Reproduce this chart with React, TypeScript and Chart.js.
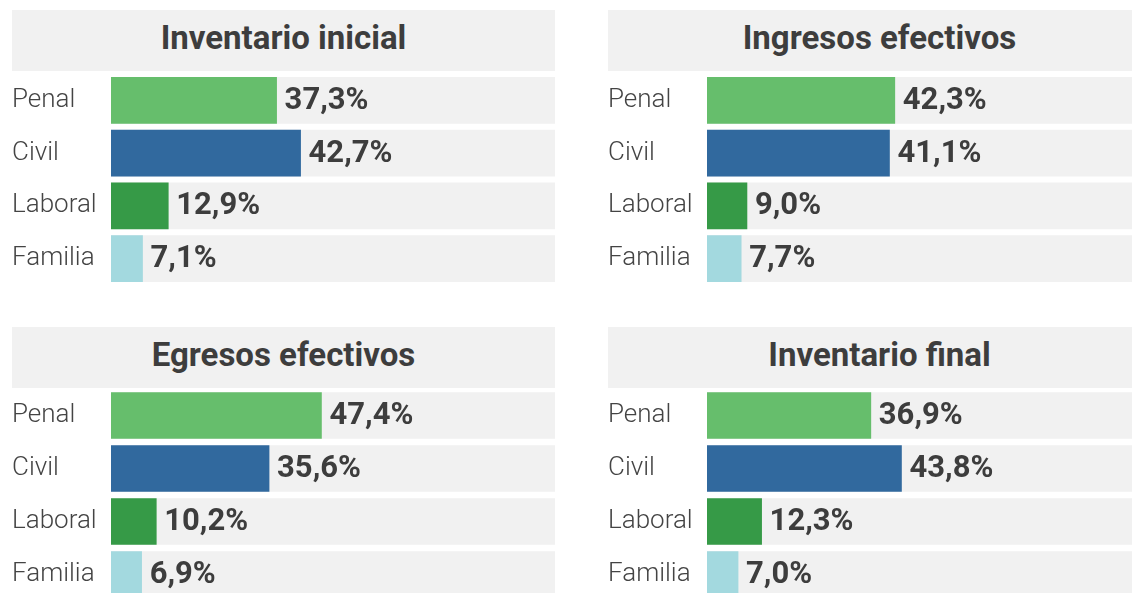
import React, { useEffect, useRef } from "react";
import { Chart, registerables } from "chart.js";

Chart.register(...registerables);

const categories = ["Penal", "Civil", "Laboral", "Familia"];
const categoryColors = ["#66be6c", "#31699e", "#369a47", "#a3d9df"];
const panelTitles = ["Inventario inicial", "Ingresos efectivos", "Egresos efectivos", "Inventario final"];
const inventarioInicial = [37.3, 42.7, 12.9, 7.1];
const ingresosEfectivos = [42.3, 41.1, 9.0, 7.7];
const egresosEfectivos = [47.4, 35.6, 10.2, 6.9];
const inventarioFinal = [36.9, 43.8, 12.3, 7.0];
const trackValues = [100, 100, 100, 100];

const panelSeries = [inventarioInicial, ingresosEfectivos, egresosEfectivos, inventarioFinal];

const PANEL_W = 543;
const panelLayout = [
  { left: 12, headerTop: 10, chartTop: 74, chartH: 211 },
  { left: 608, headerTop: 10, chartTop: 74, chartH: 211 },
  { left: 12, headerTop: 327, chartTop: 389, chartH: 212 },
  { left: 608, headerTop: 327, chartTop: 389, chartH: 212 },
];

const valueLabelPlugin = {
  id: "valueLabels",
  afterDatasetsDraw(chart: any) {
    const meta = chart.getDatasetMeta(1);
    const data = chart.data.datasets[1].data as number[];
    const ctx = chart.ctx;
    ctx.save();
    ctx.font = "bold 31px Roboto";
    ctx.fillStyle = "#3d3d3d";
    ctx.textAlign = "left";
    ctx.textBaseline = "alphabetic";
    meta.data.forEach((bar: any, i: number) => {
      const txt = data[i].toFixed(1).replace(".", ",") + "%";
      ctx.fillText(txt, bar.x + 8, bar.y + 8.5);
    });
    ctx.restore();
  },
};

function Panel({ idx }: { idx: number }) {
  const ref = useRef<HTMLCanvasElement>(null);
  const lay = panelLayout[idx];
  useEffect(() => {
    if (!ref.current) return;
    const chart = new Chart(ref.current, {
      type: "bar",
      data: {
        labels: categories,
        datasets: [
          {
            data: trackValues,
            backgroundColor: "#f1f1f1",
            barThickness: 46,
            grouped: false,
            order: 2,
          } as any,
          {
            data: panelSeries[idx],
            backgroundColor: categoryColors,
            barThickness: 46,
            grouped: false,
            order: 1,
          } as any,
        ],
      },
      options: {
        indexAxis: "y",
        animation: false,
        responsive: false,
        maintainAspectRatio: false,
        events: [],
        layout: { padding: 0 },
        plugins: { legend: { display: false }, tooltip: { enabled: false }, title: { display: false } },
        scales: {
          x: { min: 0, max: 100, display: false },
          y: {
            grid: { display: false, drawTicks: false },
            border: { display: false },
            ticks: {
              crossAlign: "far",
              padding: 0,
              color: "#444444",
              font: { family: "Roboto", size: 26, weight: 300 as any },
            },
            afterFit(axis: any) {
              axis.width = 99;
              axis.paddingTop = 0;
              axis.paddingBottom = 0;
            },
          },
        },
      },
      plugins: [valueLabelPlugin],
    });
    return () => chart.destroy();
  }, [idx]);

  return (
    <>
      <div
        style={{
          position: "absolute",
          left: lay.left,
          top: lay.headerTop,
          width: PANEL_W,
          height: 61,
          background: "#f1f1f1",
          color: "#3d3d3d",
          fontFamily: "Roboto",
          fontWeight: 700,
          fontSize: 33,
          lineHeight: "56px",
          textAlign: "center",
          whiteSpace: "nowrap",
        }}
      >
        {panelTitles[idx]}
      </div>
      <canvas
        ref={ref}
        width={PANEL_W}
        height={lay.chartH}
        style={{ position: "absolute", left: lay.left, top: lay.chartTop, display: "block" }}
      />
    </>
  );
}

export default function App() {
  return (
    <div
      style={{
        position: "fixed",
        left: 0,
        top: 0,
        width: 1132,
        height: 593,
        overflow: "hidden",
        background: "#ffffff",
      }}
    >
      {[0, 1, 2, 3].map((i) => (
        <Panel key={i} idx={i} />
      ))}
    </div>
  );
}
